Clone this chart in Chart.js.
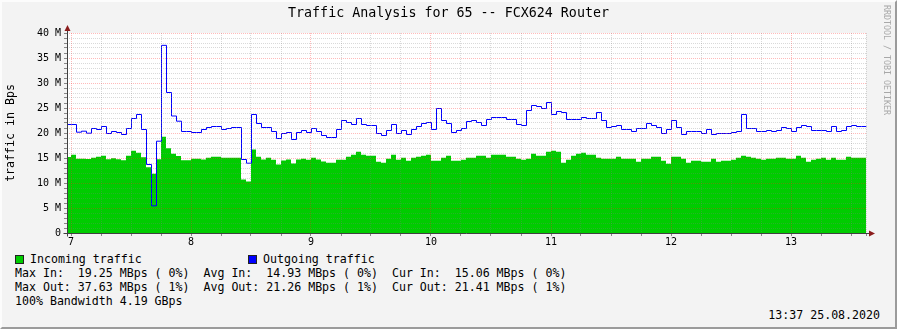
<!DOCTYPE html>
<html>
<head>
<meta charset="utf-8">
<script src="https://cdn.jsdelivr.net/npm/chart.js@4/dist/chart.umd.min.js"></script>
<style>
  html, body { margin: 0; padding: 0; background: #F3F3F3; }
  #wrap { position: relative; width: 897px; height: 329px; overflow: hidden; background: #F3F3F3;
          font-family: 'DejaVu Sans Mono', monospace; color: #000; }
  #frame { position: absolute; left: 0; top: 0; width: 897px; height: 329px; box-sizing: border-box;
           border-top: 2px solid #FCFCFC; border-left: 2px solid #FCFCFC;
           border-right: 2px solid #9B9B9B; border-bottom: 2px solid #9B9B9B; pointer-events: none; }
  canvas { position: absolute; left: 0; top: 0; }
  .t { position: absolute; white-space: pre; font-size: 11.6px; line-height: 14px; }
  #title { position: absolute; left: 0; width: 897px; top: 5px; text-align: center; font-size: 13.33px; line-height: 16px; white-space: pre; }
  .sw { position: absolute; width: 9px; height: 9px; box-sizing: border-box; border: 1px solid #222; }
  #wm { position: absolute; left: 882px; top: 5px; writing-mode: vertical-rl; font-size: 8.3px; line-height: 10px; color: #A8A8A8; white-space: pre; }
</style>
</head>
<body>
<div id="wrap">
  <canvas id="c" width="897" height="250"></canvas>
  <div id="title">Traffic Analysis for 65 -- FCX624 Router</div>
  <div id="wm">RRDTOOL / TOBI OETIKER</div>
  <div class="sw" id="swIn" style="left:15px; top:255px;"></div>
  <div class="t" id="lgIn" style="left:30px; top:252px;"></div>
  <div class="sw" id="swOut" style="left:248px; top:255px;"></div>
  <div class="t" id="lgOut" style="left:263px; top:252px;"></div>
  <div class="t" id="row1" style="left:15px; top:266px;"></div>
  <div class="t" id="row2" style="left:15px; top:280px;"></div>
  <div class="t" id="row3" style="left:15px; top:294px;"></div>
  <div class="t" id="stamp" style="right:17px; top:308px;"></div>
  <div id="frame"></div>
</div>
<script>
// ---------------- data (hourly samples, first sample = hour -1 relative to day 7 00:00) ----------------
const firstHour = -1;
const dayLabels = ['7', '8', '9', '10', '11', '12', '13'];
const yTickText = { 0: '0', 5: '5 M', 10: '10 M', 15: '15 M', 20: '20 M', 25: '25 M', 30: '30 M', 35: '35 M', 40: '40 M' };

// Incoming traffic, MBps
const incoming = [
  15.2, 15.66, 14.86, 14.86, 14.8, 15.06, 15.26, 15.46, 14.73, 14.93,
  14.73, 14.53, 15.46, 16.46, 16.06, 15.13, 13.13, 11.86, 14.73, 19.25,
  16.93, 15.86, 15.4, 14.53, 14.53, 14.86, 14.86, 14.72, 15.06, 15.26,
  15.26, 15.06, 15.06, 15.06, 15.06, 10.72, 10.32, 16.72, 15.26, 14.72,
  15.06, 14.66, 13.72, 14.52, 14.72, 13.92, 14.72, 14.86, 14.66, 15.06,
  14.72, 14.32, 14.06, 14.06, 14.66, 14.66, 15.26, 15.66, 16.26, 15.66,
  15.46, 15.46, 14.26, 14.06, 14.86, 15.66, 14.66, 15.06, 14.46, 15.06,
  15.26, 15.46, 15.66, 14.46, 14.46, 15.06, 15.46, 14.46, 14.46, 14.66,
  15.06, 15.06, 15.46, 15.46, 15.06, 15.66, 15.66, 15.66, 15.26, 15.26,
  14.86, 14.66, 14.86, 15.86, 15.46, 15.46, 16.26, 16.46, 16.26, 14.06,
  14.66, 15.46, 15.86, 16.06, 15.66, 15.66, 15.06, 14.86, 14.86, 14.86,
  15.26, 14.86, 14.86, 14.86, 14.26, 14.86, 14.86, 15.26, 15.26, 14.46,
  13.86, 15.26, 15.26, 14.86, 14.06, 14.46, 14.46, 14.26, 14.26, 14.86,
  14.26, 14.46, 14.46, 14.66, 15.06, 15.46, 15.26, 15.06, 14.86, 14.66,
  14.86, 14.86, 15.06, 15.06, 14.86, 14.86, 15.46, 15.06, 14.26, 14.66,
  14.86, 15.06, 14.66, 15.06, 14.66, 14.66, 15.26, 15.06, 15.06, 15.06,
  15.06
];

// Outgoing traffic, MBps
const outgoing = [
  21.8, 21.8, 20.26, 20.46, 20.06, 21.0, 20.8, 21.4, 20.0, 20.4,
  20.2, 19.8, 21.0, 23.0, 23.8, 20.8, 13.8, 5.53, 18.46, 37.63,
  28.2, 23.5, 22.46, 20.4, 20.4, 20.2, 20.2, 20.8, 21.2, 21.4,
  21.4, 20.8, 21.0, 21.2, 21.2, 14.8, 14.06, 23.8, 22.0, 21.2,
  21.2, 20.4, 19.0, 20.0, 20.2, 18.8, 20.2, 20.6, 20.2, 21.0,
  20.4, 19.6, 19.2, 19.2, 20.8, 22.6, 22.2, 21.8, 23.0, 21.8,
  21.6, 21.6, 20.0, 19.6, 20.6, 21.8, 20.0, 20.6, 19.8, 20.8,
  21.4, 22.0, 22.2, 20.8, 25.0, 22.6, 22.0, 20.2, 20.6, 21.0,
  22.4, 22.6, 22.2, 21.6, 22.8, 23.2, 23.2, 23.2, 22.8, 22.8,
  21.8, 21.6, 24.6, 25.6, 25.4, 25.0, 26.2, 23.8, 24.4, 24.2,
  22.8, 22.8, 22.8, 23.2, 23.0, 23.0, 24.2, 22.6, 21.2, 21.4,
  21.6, 20.8, 20.8, 20.4, 21.0, 21.0, 22.0, 21.6, 21.2, 20.0,
  20.8, 22.6, 21.2, 19.8, 20.4, 20.4, 20.4, 20.0, 20.8, 19.8,
  20.0, 20.0, 20.0, 20.2, 20.4, 23.8, 21.0, 21.0, 20.4, 20.4,
  20.6, 20.4, 20.6, 21.2, 21.0, 20.4, 21.2, 21.6, 21.4, 20.6,
  20.6, 20.6, 20.4, 21.4, 20.4, 20.6, 21.4, 21.6, 21.4, 21.4,
  21.41
];

// Legend and summary texts
const seriesNames = ['Incoming traffic', 'Outgoing traffic'];
const statsIn  = 'Max In:  19.25 MBps ( 0%)  Avg In:  14.93 MBps ( 0%)  Cur In:  15.06 MBps ( 0%)';
const statsOut = 'Max Out: 37.63 MBps ( 1%)  Avg Out: 21.26 MBps ( 1%)  Cur Out: 21.41 MBps ( 1%)';
const bandwidthText = '100% Bandwidth 4.19 GBps';
const stampText = '13:37 25.08.2020';
const yTitle = 'traffic in Bps';

// ---------------- styles ----------------
const COL_IN = '#00CC00';
const COL_OUT = '#0000FF';
const GRID_MINOR = 'rgba(128,128,128,0.30)';
const GRID_MAJOR = 'rgba(255,40,40,0.32)';
const AXIS_COL = '#404040';
const ARROW_COL = '#8B1C1C';
const FONT = 'DejaVu Sans Mono';

document.getElementById('lgIn').textContent = seriesNames[0];
document.getElementById('lgOut').textContent = seriesNames[1];
document.getElementById('swIn').style.background = COL_IN;
document.getElementById('swOut').style.background = COL_OUT;
document.getElementById('row1').textContent = statsIn;
document.getElementById('row2').textContent = statsOut;
document.getElementById('row3').textContent = bandwidthText;
document.getElementById('stamp').textContent = stampText;

// each sample covers [hour, hour+1]; points are placed at interval starts (step held until next point)
const toPoints = arr => arr.map((v, i) => ({ x: firstHour + i, y: v }));

// minor grid every 6 hours, plus the right frame edge
const xMax = 159;
const xTicks = [];
for (let h = 0; h <= xMax; h += 6) xTicks.push(h);
xTicks.push(xMax);

const axesPlugin = {
  id: 'rrdAxes',
  beforeDraw(chart) {
    const { ctx, chartArea: a } = chart;
    ctx.save();
    ctx.fillStyle = '#FFFFFF';
    ctx.fillRect(a.left, a.top, a.right - a.left, a.bottom - a.top);
    ctx.restore();
  },
  beforeDatasetDraw(chart, args) {
    if (args.index === 0) { chart.ctx.save(); chart.ctx.translate(0.5, 0.5); }
  },
  afterDatasetDraw(chart, args) {
    if (args.index === 0) { chart.ctx.restore(); }
  },
  afterDraw(chart) {
    const { ctx, chartArea: a } = chart;
    const L = Math.round(a.left) + 0.5, B = Math.round(a.bottom) + 0.5;
    ctx.save();
    ctx.strokeStyle = AXIS_COL;
    ctx.lineWidth = 1;
    ctx.beginPath();
    ctx.moveTo(L, a.top - 3); ctx.lineTo(L, B + 3);
    ctx.moveTo(L - 4, B); ctx.lineTo(a.right + 4, B);
    ctx.stroke();
    ctx.fillStyle = ARROW_COL;
    ctx.beginPath();
    ctx.moveTo(L - 3, a.top - 2); ctx.lineTo(L + 3, a.top - 2); ctx.lineTo(L, a.top - 8); ctx.closePath();
    ctx.fill();
    ctx.beginPath();
    ctx.moveTo(a.right + 3, B - 3); ctx.lineTo(a.right + 3, B + 3); ctx.lineTo(a.right + 9, B); ctx.closePath();
    ctx.fill();
    ctx.restore();
  }
};

new Chart(document.getElementById('c'), {
  type: 'line',
  data: {
    datasets: [
      { label: seriesNames[1], data: toPoints(outgoing), stepped: 'before', borderColor: COL_OUT, borderWidth: 1,
        pointRadius: 0, fill: false, order: 0 },
      { label: seriesNames[0], data: toPoints(incoming), stepped: 'before', borderColor: 'rgba(0,0,0,0)', borderWidth: 0,
        backgroundColor: COL_IN, pointRadius: 0, fill: 'origin', order: 1 }
    ]
  },
  options: {
    responsive: false,
    animation: false,
    devicePixelRatio: 1,
    layout: { padding: { left: 0, right: 31, top: 33, bottom: 0 } },
    plugins: { legend: { display: false }, tooltip: { enabled: false }, title: { display: false } },
    scales: {
      x: {
        type: 'linear', min: -0.8, max: xMax,
        afterFit: s => { s.height = 17; },
        afterBuildTicks: s => { s.ticks = xTicks.map(v => ({ value: v })); },
        ticks: {
          autoSkip: false, maxRotation: 0, color: '#000', padding: 0,
          font: { family: FONT, size: 10 },
          callback: v => (v % 24 === 0 ? dayLabels[v / 24] : '')
        },
        grid: {
          z: 1, lineWidth: 1, tickLength: 3,
          color: c => (c.tick && c.tick.value % 24 === 0 ? GRID_MAJOR : GRID_MINOR),
          tickColor: '#888'
        },
        border: { display: false, dash: [1, 1] }
      },
      y: {
        min: 0, max: 40,
        afterFit: s => { s.width = 67; },
        ticks: {
          stepSize: 1, autoSkip: false, maxTicksLimit: 100, color: '#000', padding: 3,
          font: { family: FONT, size: 10 },
          callback: v => (yTickText[v] !== undefined ? yTickText[v] : '')
        },
        grid: {
          z: 1, lineWidth: 1, tickLength: 3,
          color: c => (c.tick && c.tick.value % 5 === 0 ? GRID_MAJOR : GRID_MINOR),
          tickColor: '#888'
        },
        border: { display: false, dash: [1, 1] },
        title: { display: true, text: yTitle, color: '#000', font: { family: FONT, size: 11.6 }, padding: { top: 4, bottom: 0 } }
      }
    }
  },
  plugins: [axesPlugin]
});
</script>
</body>
</html>
